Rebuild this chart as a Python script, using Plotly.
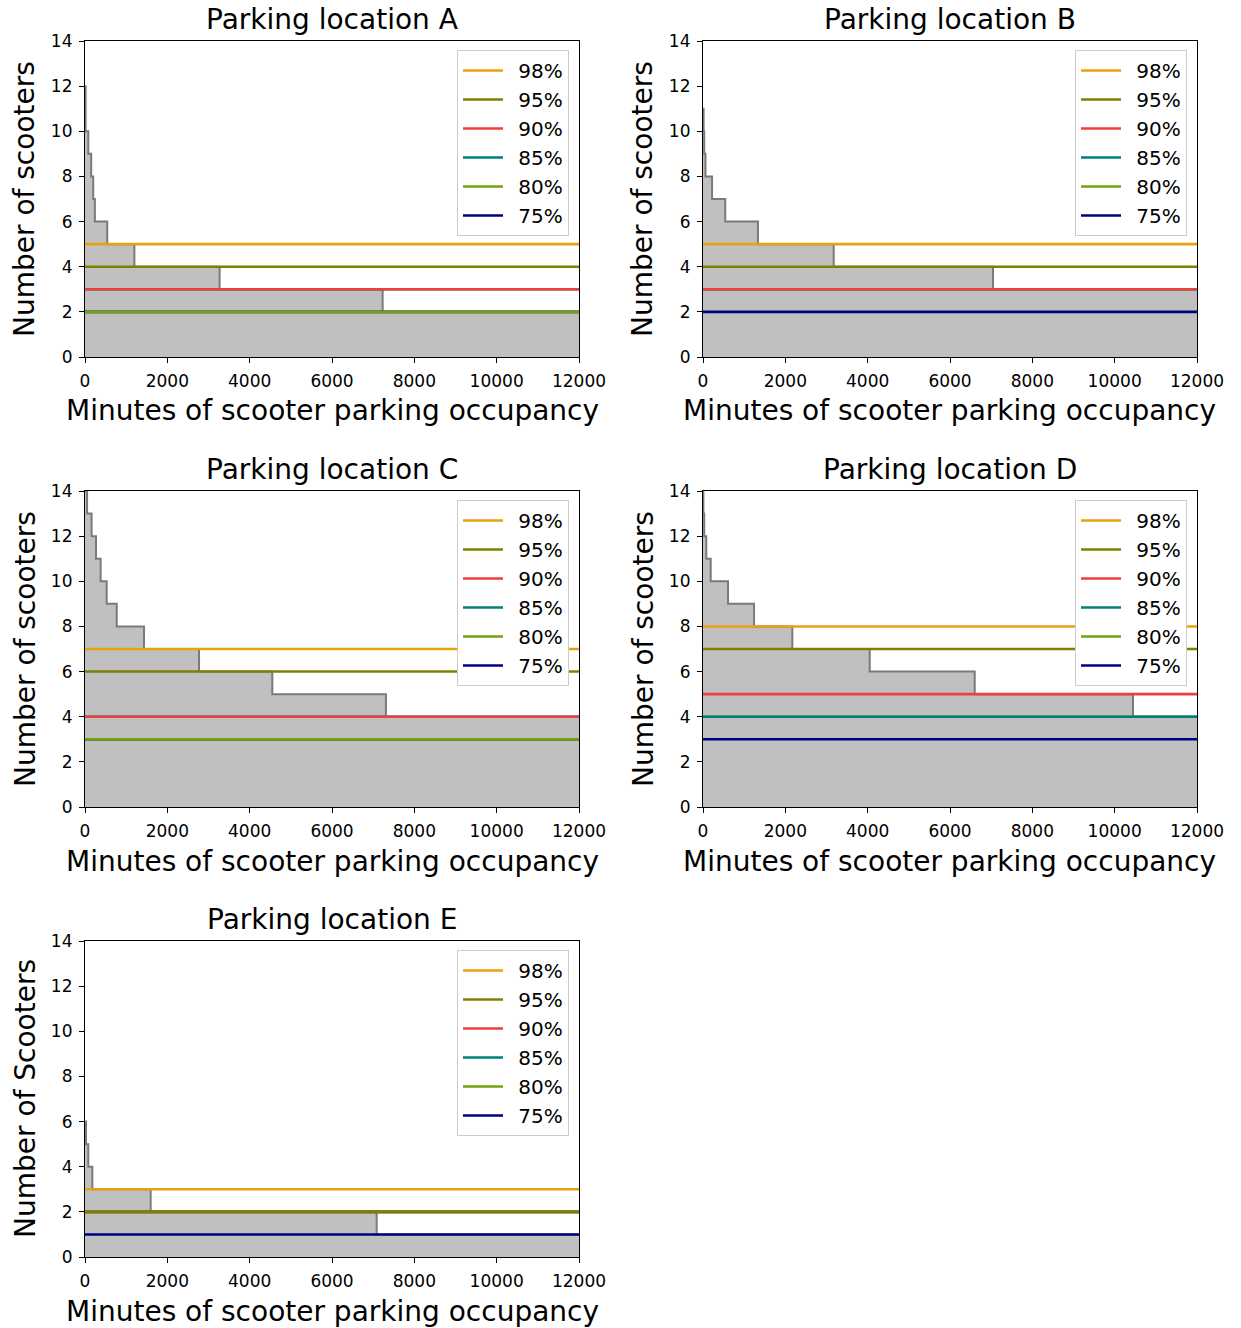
import plotly.graph_objects as go

# ---------------- data ----------------
panel_names = ["Parking location A", "Parking location B", "Parking location C",
               "Parking location D", "Parking location E"]
y_titles = ["Number of scooters", "Number of scooters", "Number of scooters",
            "Number of scooters", "Number of Scooters"]

# step curves: minutes at which each level starts (last value = end), and scooter counts
A_minutes = [0, 15, 80, 150, 200, 240, 540, 1200, 3270, 7230, 12000]
A_scooters = [12, 10, 9, 8, 7, 6, 5, 4, 3, 2, 2]
B_minutes = [0, 15, 30, 60, 220, 540, 1335, 3175, 7045, 12000]
B_scooters = [11, 10, 9, 8, 7, 6, 5, 4, 3, 3]
C_minutes = [0, 50, 160, 267, 380, 527, 770, 1433, 2770, 4550, 7310, 12000]
C_scooters = [14, 13, 12, 11, 10, 9, 8, 7, 6, 5, 4, 4]
D_minutes = [0, 10, 30, 80, 187, 608, 1240, 2170, 4050, 6600, 10445, 12000]
D_scooters = [14, 13, 12, 11, 10, 9, 8, 7, 6, 5, 4, 4]
E_minutes = [0, 24, 80, 178, 1595, 7085, 12000]
E_scooters = [6, 5, 4, 3, 2, 1, 1]

percentile_labels = ["98%", "95%", "90%", "85%", "80%", "75%"]
A_percentiles = [5, 4, 3, 3, 2, 2]
B_percentiles = [5, 4, 3, 3, 3, 2]
C_percentiles = [7, 6, 4, 4, 3, 3]
D_percentiles = [8, 7, 5, 4, 4, 3]
E_percentiles = [3, 2, 2, 2, 2, 1]

x_ticks = [0, 2000, 4000, 6000, 8000, 10000, 12000]
y_ticks = [0, 2, 4, 6, 8, 10, 12, 14]

# ---------------- styling ----------------
W, H = 1241, 1328
pct_colors = ["#e8a20c", "#808000", "#ef3e3e", "#00807a", "#6fa70a", "#00007f"]
FONT = "DejaVu Sans"

steps = [(A_minutes, A_scooters), (B_minutes, B_scooters), (C_minutes, C_scooters),
         (D_minutes, D_scooters), (E_minutes, E_scooters)]
pcts = [A_percentiles, B_percentiles, C_percentiles, D_percentiles, E_percentiles]

# axes boxes in page pixels (left, right, top, bottom)
boxes = [(85, 579, 41, 357), (703, 1197, 41, 357),
         (85, 579, 491, 807), (703, 1197, 491, 807),
         (85, 579, 941, 1257)]


def px(xp):
    return xp / W


def py(yp):
    return 1 - yp / H


fig = go.Figure()
layout = dict(width=W, height=H, margin=dict(l=0, r=0, t=0, b=0, autoexpand=False),
              plot_bgcolor="white", paper_bgcolor="white",
              font=dict(family=FONT, color="black"), annotations=[])

for i, ((mins, cnt), pv, (l, r, t, b)) in enumerate(zip(steps, pcts, boxes)):
    n = i + 1
    xa = "x" if n == 1 else f"x{n}"
    ya = "y" if n == 1 else f"y{n}"
    leg = "legend" if n == 1 else f"legend{n}"
    # step fill + line
    fig.add_trace(go.Scatter(x=mins, y=cnt, mode="lines", line=dict(shape="hv", color="#7a7a7a", width=2),
                             fill="tozeroy", fillcolor="#c0c0c0", showlegend=False,
                             xaxis=xa, yaxis=ya, hoverinfo="skip"))
    # percentile lines, drawn from lowest to highest so the highest is on top
    for k in reversed(range(len(percentile_labels))):
        fig.add_trace(go.Scatter(x=[x_ticks[0], x_ticks[-1]], y=[pv[k], pv[k]], mode="lines",
                                 line=dict(color=pct_colors[k], width=2.6),
                                 name="\u00a0\u2009" + percentile_labels[k], legend=leg,
                                 legendrank=k + 1, xaxis=xa, yaxis=ya))
    axis_common = dict(showline=True, linecolor="black", linewidth=1.2, mirror=True,
                       ticks="outside", ticklen=5, tickwidth=1.2, tickcolor="black",
                       showgrid=False, zeroline=False, tickfont=dict(size=17, family=FONT),
                       tickformat="d", ticklabelstandoff=3)
    layout["xaxis" if n == 1 else f"xaxis{n}"] = dict(domain=[px(l), px(r)], range=[0, 12000],
                                                      tickvals=x_ticks, anchor=ya, **axis_common)
    layout["yaxis" if n == 1 else f"yaxis{n}"] = dict(domain=[py(b), py(t)], range=[0, 14],
                                                      tickvals=y_ticks, anchor=xa, **axis_common)
    layout[leg] = dict(x=px(r - 10), y=py(t + 9), xanchor="right", yanchor="top",
                       bgcolor="white", bordercolor="#cccccc", borderwidth=1,
                       font=dict(size=20, family=FONT), traceorder="normal", itemwidth=40)
    cx = (l + r) / 2
    layout["annotations"] += [
        dict(text=panel_names[i], x=px(cx), y=py(t - 21), xref="paper", yref="paper",
             showarrow=False, font=dict(size=28, family=FONT), xanchor="center", yanchor="middle"),
        dict(text="Minutes of scooter parking occupancy", x=px(cx), y=py(b + 54),
             xref="paper", yref="paper", showarrow=False, font=dict(size=28, family=FONT),
             xanchor="center", yanchor="middle"),
        dict(text=y_titles[i], x=px(l - 60), y=py((t + b) / 2), xref="paper", yref="paper",
             showarrow=False, textangle=-90, font=dict(size=28, family=FONT),
             xanchor="center", yanchor="middle"),
    ]

fig.update_layout(**layout)
fig.write_html("out.html", config={"displayModeBar": False},
               post_script="document.body.style.margin='0';")
